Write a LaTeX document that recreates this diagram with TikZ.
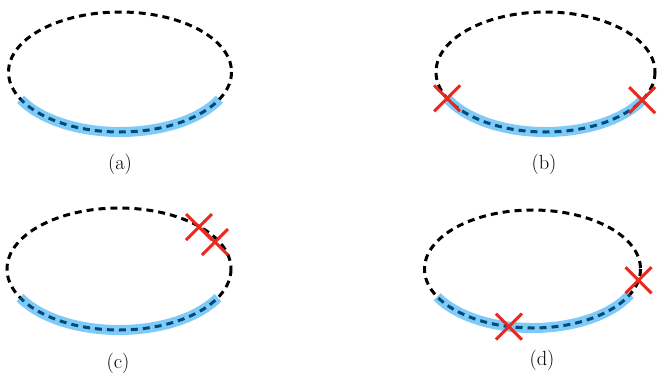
\documentclass[tikz,border=0pt]{standalone}
\usepackage{tikz}
\usetikzlibrary{shapes.misc}

\definecolor{bandblue}{RGB}{0,150,240}
\definecolor{xred}{RGB}{235,40,30}

\tikzset{
  loopline/.style={draw=black, line width=3pt, dash pattern=on 7pt off 5pt},
  band/.style={draw=bandblue, draw opacity=0.5, line width=10pt},
  redx/.style={cross out, draw=xred, line width=3pt, minimum size=23pt, inner sep=0pt},
  caption/.style={font=\fontsize{20.5}{24}\selectfont, inner sep=0pt}
}

\begin{document}
\begin{tikzpicture}[x=1pt,y=-1pt]
	  \useasboundingbox (0,0) rectangle (658,373);

	  \coordinate (ca) at (120,72);
	  \coordinate (cb) at (545.5,72);
	  \coordinate (cc) at (119,269);
	  \coordinate (cd) at (532.5,269);

	  % (a)
	  \draw[loopline] (ca) ellipse[x radius=111.5, y radius=60];
	  \draw[band] (ca) ++(27:111.5 and 60) arc[start angle=27, end angle=153, x radius=111.5, y radius=60];
	  \node[caption] (capa) at (120,164) {(a)};

	  % (b)
	  \draw[loopline] (cb) ellipse[x radius=109.5, y radius=60];
	  \draw[band] (cb) ++(28:109.5 and 60) arc[start angle=28, end angle=154, x radius=109.5, y radius=60];
	  \path (cb) ++(154:109.5 and 60) node[redx] (xb1) {};
	  \path (cb) ++(28:109.5 and 60) node[redx] (xb2) {};
	  \node[caption] (capb) at (544,164) {(b)};

	  % (c)
	  \draw[loopline] (cc) ellipse[x radius=112, y radius=61];
	  \draw[band] (cc) ++(28:112 and 61) arc[start angle=28, end angle=152, x radius=112, y radius=61];
	  \node[redx] (xc1) at (199,227) {};
	  \node[redx] (xc2) at (215,242) {};
	  \node[caption] (capc) at (118,363) {(c)};

	  % (d)
	  \draw[loopline] (cd) ellipse[x radius=108, y radius=59];
	  \draw[band] (cd) ++(25.5:108 and 59) arc[start angle=25.5, end angle=152, x radius=108, y radius=59];
	  \path (cd) ++(11:108 and 59) node[redx] (xd1) {};
	  \path (cd) ++(102.6:108 and 59) node[redx] (xd2) {};
	  \node[caption] (capd) at (542,360) {(d)};

\end{tikzpicture}
\end{document}
